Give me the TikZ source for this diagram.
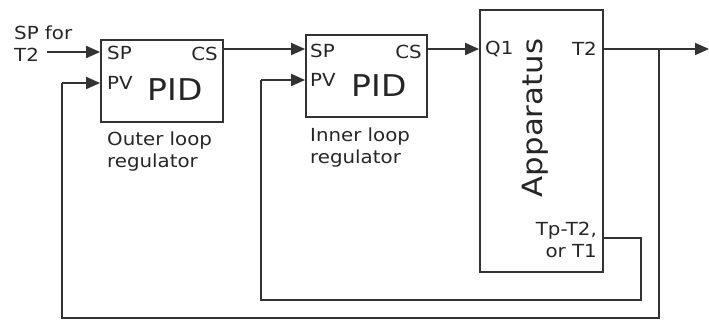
\documentclass[tikz,border=0pt]{standalone}
\usepackage{fontspec}
\setmainfont[FakeStretch=1.1]{DejaVu Sans}
\usetikzlibrary{arrows.meta}
\begin{document}
\begin{tikzpicture}[x=1pt,y=-1pt,
  blk/.style={draw=black!80,line width=1.8pt,inner sep=0pt},
  lbl/.style={inner sep=0pt,font=\fontsize{18}{22}\selectfont,text=black!85},
  big/.style={inner sep=0pt,font=\fontsize{30}{33}\selectfont,text=black!85},
  wire/.style={draw=black!80,line width=1.8pt},
  arr/.style={wire,-{Triangle[length=14pt,width=12pt]}}]
\useasboundingbox (0,0) rectangle (709,320);
% blocks
\node[blk,minimum width=122pt,minimum height=82pt] (outer) at (162,81) {};
\node[blk,minimum width=121pt,minimum height=82pt] (inner) at (366.5,76) {};
\node[blk,minimum width=123pt,minimum height=262pt] (app) at (541.5,141) {};
% outer texts
\node[lbl,anchor=west] (osp) at (107,53) {SP};
\node[lbl,anchor=west] (opv) at (107,83) {PV};
\node[lbl,anchor=east] (ocs) at (218,54) {CS};
\node[big] (opid) at (175,90) {PID};
\node[lbl,anchor=north west,align=left] (olab) at (107,132) {Outer loop\\regulator};
% inner texts
\node[lbl,anchor=west] (isp) at (310,51) {SP};
\node[lbl,anchor=west] (ipv) at (310,80) {PV};
\node[lbl,anchor=east] (ics) at (422,52) {CS};
\node[big] (ipid) at (379,86) {PID};
\node[lbl,anchor=north west,align=left] (ilab) at (310,128) {Inner loop\\regulator};
% apparatus texts
\node[lbl,anchor=west] (q1) at (485,49) {Q1};
\node[lbl,anchor=east] (t2) at (597,49) {T2};
\node[inner sep=0pt,font=\fontsize{28}{30}\selectfont,text=black!85,rotate=90] (appl) at (535,118) {Apparatus};
\node[lbl,anchor=north east,align=right] (tp) at (597,222) {Tp-T2,\\or T1};
% input label
\node[lbl,anchor=north west,align=left] (spin) at (14,26) {SP for\\T2};
\coordinate (sps) at (47,52);
\coordinate (out) at (709,49);
\coordinate (br) at (659,49);
\coordinate (tpo) at (603,238);
% connectors
\draw[arr] (sps) -- (sps -| outer.west);
\draw[arr] (223,49) -- (inner.west |- 0,49);
\draw[arr] (inner.east |- 0,49) -- (app.west |- 0,49);
\draw[arr] (app.east |- out) -- (out);
\draw[wire] (br) -- (659,318) -- (62,318) -- (62,83);
\draw[arr] (62,83) -- (outer.west |- 0,83);
\draw[wire] (tpo) -- (641,238) -- (641,300) -- (261,300) -- (261,80);
\draw[arr] (261,80) -- (inner.west |- 0,80);
\end{tikzpicture}
\end{document}
